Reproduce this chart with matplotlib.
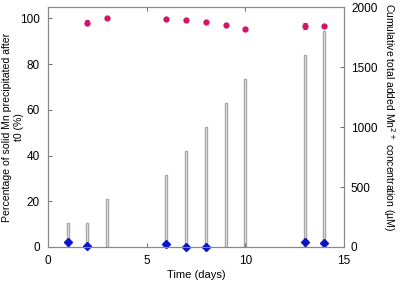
import matplotlib
matplotlib.use('Agg')
from matplotlib import pyplot as plt

plt.rcParams['font.family'] = ['Liberation Sans', 'DejaVu Sans']

# cumulative added Mn2+ (uM), right axis
bar_days = [1, 2, 3, 6, 7, 8, 9, 10, 13, 14]
bar_conc = [200, 200, 400, 600, 800, 1000, 1200, 1400, 1600, 1800]

# % solid Mn precipitated after t0
pink_days = [2, 3, 6, 7, 8, 9, 10, 13, 14]
pink_vals = [98.2, 100, 99.8, 99.4, 98.5, 97.0, 95.5, 96.8, 96.5]
pink_err = [1.2, 0, 0, 0, 0, 0, 0, 1.2, 0]

blue_days = [1, 2, 6, 7, 8, 13, 14]
blue_vals = [2.4, 0.6, 1.3, 0.1, 0.0, 2.4, 1.6]

fig = plt.figure(figsize=(4, 2.81), dpi=100)
ax = fig.add_axes([0.12, 0.121, 0.74, 0.854])
ax2 = ax.twinx()

ax2.bar(bar_days, bar_conc, width=0.1, color='white', edgecolor='#a6a6a6', linewidth=1.0, zorder=1)
ax2.set_ylim(0, 2000)
ax2.set_yticks([0, 500, 1000, 1500, 2000])
ax2.set_ylabel('Cumulative total added Mn$^{2+}$ concentration (µM)', rotation=270, fontsize=7.5)
ax2.yaxis.set_label_coords(1.18, 0.54)

ax.set_zorder(ax2.get_zorder() + 1)
ax.patch.set_visible(False)
ax.errorbar(pink_days, pink_vals, yerr=pink_err, fmt='o', color='#d1146a', markersize=3.5,
            elinewidth=0.8, capsize=1.5, capthick=0.8)
ax.plot(blue_days, blue_vals, 'D', color='#0a14c8', markersize=4.5, linestyle='none', clip_on=False)

ax.set_xlim(0, 15)
ax.set_ylim(0, 105)
ax.set_xticks([0, 5, 10, 15])
ax.set_yticks([0, 20, 40, 60, 80, 100])
ax.set_xlabel('Time (days)', fontsize=8, labelpad=2)
ax.set_ylabel('Percentage of solid Mn precipitated after\nt0 (%)', fontsize=7.6)
ax.yaxis.set_label_coords(-0.082, 0.5)

for a in (ax, ax2):
    a.tick_params(direction='in', labelsize=8.5, length=3, width=0.6, color='#555555')
    for s in a.spines.values():
        s.set_color('#888888')
        s.set_linewidth(0.8)
ax.tick_params(axis='x', top=True, pad=6)
ax.tick_params(axis='y', pad=6)
ax2.tick_params(axis='y', pad=5)

fig.savefig('out.png', dpi=100)
